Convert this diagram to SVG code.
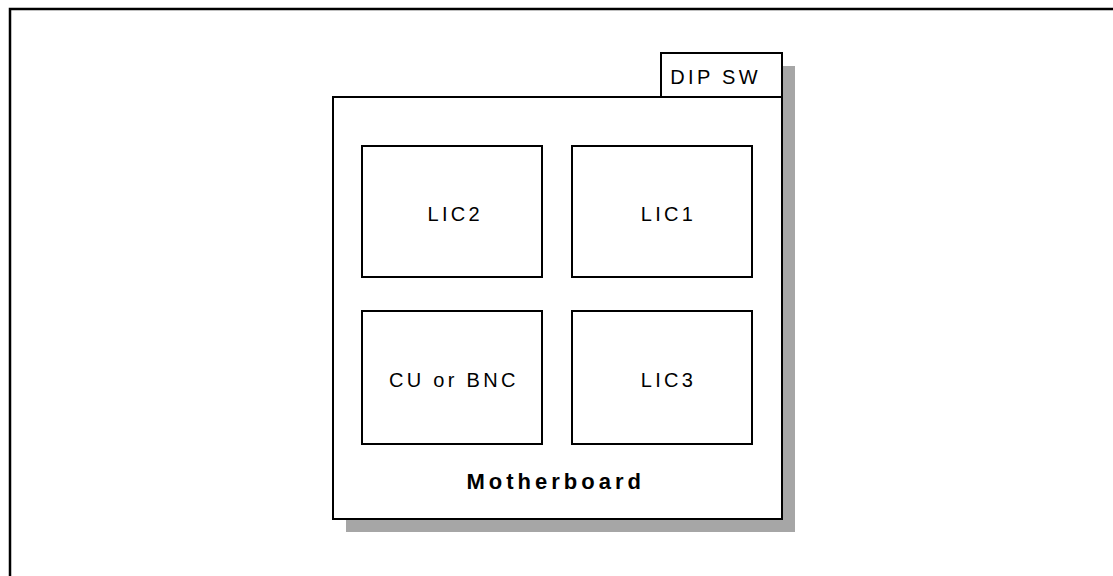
<svg xmlns="http://www.w3.org/2000/svg" width="1113" height="576" viewBox="0 0 1113 576">
  <style>
    .box { fill: #ffffff; stroke: #000000; stroke-width: 2; }
    .shadow { fill: #a6a6a6; stroke: none; }
    .lbl { font-family: "Liberation Sans", Arial, sans-serif; font-size: 20px; fill: #000000; letter-spacing: 3.3px; }
    .title { font-family: "Liberation Sans", Arial, sans-serif; font-size: 22px; font-weight: bold; fill: #000000; letter-spacing: 4px; }
  </style>
  <rect x="0" y="0" width="1113" height="576" fill="#ffffff"/>
  <g id="frame">
    <path d="M10 576 V9 H1113" fill="none" stroke="#000000" stroke-width="2.5"/>
  </g>
  <g id="motherboard">
    <rect class="shadow" x="674" y="66" width="121" height="44"/>
    <rect class="shadow" x="346" y="110" width="449" height="422"/>
    <rect class="box" x="661" y="53" width="121" height="44"/>
    <rect class="box" x="333" y="97" width="449" height="422"/>
    <text class="title" x="466.5" y="488.5">Motherboard</text>
  </g>
  <g id="dipsw">
    <text class="lbl" x="670.3" y="83.5" letter-spacing="3.8">DIP SW</text>
  </g>
  <g id="lic2">
    <rect class="box" x="362" y="146" width="180" height="131"/>
    <text class="lbl" x="427.5" y="221">LIC2</text>
  </g>
  <g id="lic1">
    <rect class="box" x="572" y="146" width="180" height="131"/>
    <text class="lbl" x="640.8" y="221">LIC1</text>
  </g>
  <g id="cu">
    <rect class="box" x="362" y="311" width="180" height="133"/>
    <text class="lbl" x="389" y="387" letter-spacing="2.8">CU or BNC</text>
  </g>
  <g id="lic3">
    <rect class="box" x="572" y="311" width="180" height="133"/>
    <text class="lbl" x="640.8" y="387">LIC3</text>
  </g>
  <g id="connectors"></g>
</svg>
